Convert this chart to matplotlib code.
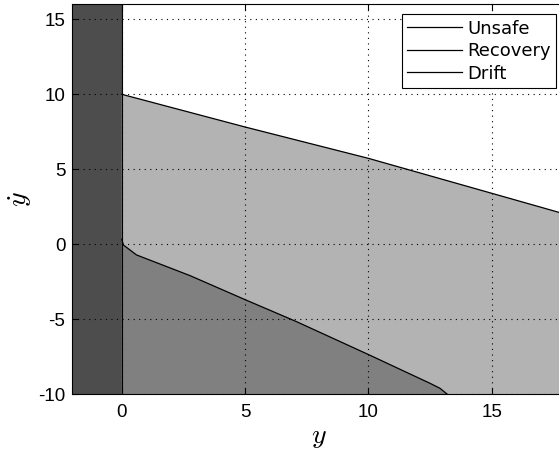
import matplotlib
matplotlib.use("Agg")
import matplotlib.pyplot as plt
from matplotlib.lines import Line2D

plt.rcParams['font.family'] = ['Liberation Sans', 'DejaVu Sans']
plt.rcParams['mathtext.fontset'] = 'cm'
plt.rcParams['axes.unicode_minus'] = False

# Data
upper_x = [0, 5, 10, 15, 18]
upper_y = [10, 7.82, 5.73, 3.4, 2.0]
lower_x = [0, 0.07, 0.6, 2.77, 5, 7.09, 10, 12.5, 12.9, 13.2]
lower_y = [0.33, -0.05, -0.71, -2.09, -3.69, -5.16, -7.35, -9.27, -9.6, -10]
xlim = (-2, 18)
ylim = (-10, 16)
xticks = [0, 5, 10, 15]
yticks = [-10, -5, 0, 5, 10, 15]
labels = ['Unsafe', 'Recovery', 'Drift']

c_unsafe = '#4d4d4d'
c_recov = '#b3b3b3'
c_drift = '#808080'

fig = plt.figure(figsize=(5.59, 4.5), dpi=100)
W, H = 559, 450
left_px, right_px = 72.4, 565.8
top_px, bot_px = 4.3, 394.3
ax = fig.add_axes([left_px / W, (H - bot_px) / H, (right_px - left_px) / W, (bot_px - top_px) / H])

# Unsafe region
ax.fill([xlim[0], 0, 0, xlim[0]], [ylim[0], ylim[0], ylim[1], ylim[1]],
        facecolor=c_unsafe, edgecolor='none', zorder=1)
ax.plot([0, 0], [ylim[0], ylim[1]], color='black', lw=0.8, zorder=3)

# Recovery region
rx = list(upper_x) + [xlim[1], lower_x[-1]] + list(lower_x[::-1])
ry = list(upper_y) + [ylim[0], ylim[0]] + list(lower_y[::-1])
ax.fill(rx, ry, facecolor=c_recov, edgecolor='none', zorder=1)

# Drift region
dx = list(lower_x) + [0]
dy = list(lower_y) + [ylim[0]]
ax.fill(dx, dy, facecolor=c_drift, edgecolor='none', zorder=1)

ax.plot(upper_x, upper_y, color='black', lw=0.9, zorder=3)
ax.plot(lower_x, lower_y, color='black', lw=0.9, zorder=3)

ax.set_xlim(*xlim)
ax.set_ylim(*ylim)
ax.set_xticks(xticks)
ax.set_yticks(yticks)
ax.tick_params(direction='in', labelsize=13.5, length=4, width=0.8, top=True, right=True, pad=7)
ax.tick_params(axis='y', pad=5)
ax.grid(True, color='black', linestyle=(0, (1, 4)), linewidth=0.8)
ax.set_axisbelow(False)
for s in ax.spines.values():
    s.set_linewidth(0.8)

ax.set_xlabel(r'$y$', fontsize=20, labelpad=2)
ax.set_ylabel(r'$\dot{y}$', fontsize=20, labelpad=3)

handles = [Line2D([0], [0], color='black', lw=0.9) for _ in labels]
leg = ax.legend(handles, labels, loc='upper left',
                bbox_to_anchor=((402 - left_px) / (right_px - left_px), 1 - (14.3 - top_px) / (bot_px - top_px)),
                prop={'family': 'DejaVu Sans', 'size': 13}, frameon=True, fancybox=False, edgecolor='black',
                framealpha=1, handlelength=3.0, handletextpad=0.3, borderpad=0.3,
                labelspacing=0.25, borderaxespad=0)
leg.get_frame().set_linewidth(0.8)

fig.savefig('out.png', dpi=100)
